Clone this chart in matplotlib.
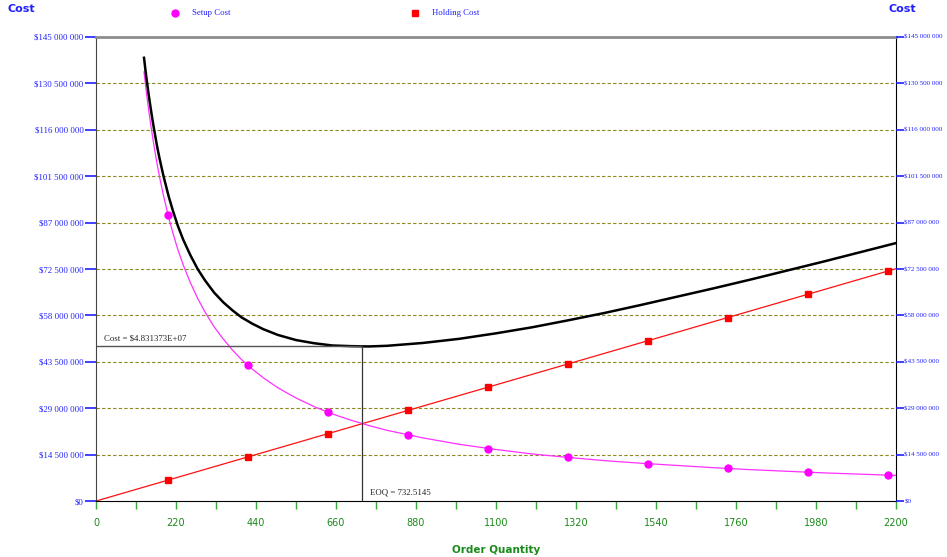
import matplotlib.pyplot as plt
from matplotlib.ticker import FixedLocator

# values (cost in millions of $)
q_curve = [132, 136, 140, 145, 150, 155, 160, 168, 175, 185, 200, 212, 225, 240, 260,
           280, 300, 325, 350, 375, 400, 430, 460, 500, 550, 600, 650, 700, 750, 800,
           900, 1000, 1100, 1200, 1300, 1400, 1500, 1600, 1700, 1800, 1900, 2000,
           2100, 2200]
setup_curve = [134.1, 130.1, 126.4, 122.0, 118.0, 114.2, 110.6, 105.3, 101.1, 95.7,
               88.5, 83.5, 78.6, 73.7, 68.1, 63.2, 59.0, 54.4, 50.6, 47.2, 44.2, 41.2,
               38.5, 35.4, 32.2, 29.5, 27.2, 25.3, 23.6, 22.1, 19.7, 17.7, 16.1, 14.7,
               13.6, 12.6, 11.8, 11.1, 10.4, 9.8, 9.3, 8.8, 8.4, 8.0]
total_curve = [138.5, 134.6, 131.0, 126.8, 123.0, 119.3, 115.9, 110.8, 106.9, 101.8,
               95.1, 90.5, 86.0, 81.6, 76.7, 72.4, 68.9, 65.1, 62.1, 59.6, 57.4, 55.4,
               53.7, 51.9, 50.3, 49.3, 48.6, 48.4, 48.3, 48.5, 49.4, 50.7, 52.4, 54.3,
               56.5, 58.8, 61.3, 63.9, 66.5, 69.2, 72.0, 74.8, 77.7, 80.6]
q_hold_line = [0, 2200]
hold_line = [0, 72.6]

q_marks = [198, 418, 638, 858, 1078, 1298, 1518, 1738, 1958, 2178]
setup_marks = [89.4, 42.4, 27.7, 20.6, 16.4, 13.6, 11.7, 10.2, 9.0, 8.1]
hold_marks = [6.5, 13.8, 21.0, 28.3, 35.6, 42.8, 50.1, 57.3, 64.6, 71.8]

eoq = 732.5145
min_cost = 48.31373

y_ticks = [0, 14.5, 29, 43.5, 58, 72.5, 87, 101.5, 116, 130.5, 145]
y_labels = ['$0', '$14 500 000', '$29 000 000', '$43 500 000', '$58 000 000',
            '$72 500 000', '$87 000 000', '$101 500 000', '$116 000 000',
            '$130 500 000', '$145 000 000']
x_ticks = [0, 220, 440, 660, 880, 1100, 1320, 1540, 1760, 1980, 2200]

blue = '#2020ff'
green = '#1a8a1a'
serif = 'Liberation Serif'

fig = plt.figure(figsize=(9.47, 5.57), dpi=100)
ax = fig.add_axes([0.1014, 0.1005, 0.8447, 0.8331])
ax.set_xlim(0, 2200)
ax.set_ylim(0, 145)

# grid
for yv in y_ticks[1:-1]:
    ax.axhline(yv, color='#8a8a20', lw=0.8, ls=(0, (3, 2)), zorder=1)

# curves
ax.plot(q_hold_line, hold_line, color='#ff1010', lw=0.9, zorder=3)
ax.plot(q_curve, setup_curve, color='#ff30ff', lw=0.9, zorder=3)
ax.plot(q_curve, total_curve, color='black', lw=1.8, zorder=4)
ax.plot(q_marks, setup_marks, 'o', color='#ff00ff', ms=5, zorder=5, ls='none')
ax.plot(q_marks, hold_marks, 's', color='#ff0000', ms=4.5, zorder=5, ls='none')

# EOQ guides
ax.plot([0, eoq], [min_cost, min_cost], color='#555555', lw=1.0, zorder=4)
ax.plot([eoq, eoq], [0, min_cost], color='#333333', lw=0.9, zorder=4)
ax.text(22, min_cost + 1.2, 'Cost = $4.831373E+07', fontsize=6.3, family=serif,
        color='#222222', va='bottom')
ax.text(eoq + 22, 1.5, 'EOQ = 732.5145', fontsize=6.3, family=serif,
        color='#222222', va='bottom')

# spines
ax.spines['top'].set_color('#8c8c8c')
ax.spines['top'].set_linewidth(2)
ax.spines['left'].set_color('#444444')
ax.spines['right'].set_color('black')
ax.spines['bottom'].set_color('black')
for s in ax.spines.values():
    s.set_zorder(6)

# left y ticks
ax.set_yticks(y_ticks)
ax.set_yticklabels(y_labels)
ax.tick_params(axis='y', which='major', length=8, width=1.2, color=blue,
               labelcolor=blue, labelsize=6.3, pad=1)
for lab in ax.get_yticklabels():
    lab.set_family(serif)

# right y ticks (labels slightly smaller so they stay inside the image)
ax2 = ax.twinx()
ax2.set_ylim(0, 145)
ax2.set_yticks(y_ticks)
ax2.set_yticklabels(y_labels)
ax2.tick_params(axis='y', length=6, width=1.2, color=blue, labelcolor=blue,
                labelsize=5.0, pad=0)
for lab in ax2.get_yticklabels():
    lab.set_family(serif)
for s in ax2.spines.values():
    s.set_visible(False)

# x ticks
ax.set_xticks(x_ticks)
ax.xaxis.set_minor_locator(FixedLocator([110 + 220 * i for i in range(10)]))
ax.tick_params(axis='x', which='both', direction='out', length=6, width=1,
               color='#3aa83a', labelcolor=green, labelsize=7, pad=6)

ax.set_xlabel('Order Quantity', color=green, fontsize=7.5, fontweight='bold')
ax.xaxis.set_label_coords(0.5, -0.095)

# titles for both y axes
fig.text(8 / 947, 1 - 9 / 557, 'Cost', color=blue, fontsize=8, fontweight='bold',
         va='center', ha='left')
fig.text(888 / 947, 1 - 9 / 557, 'Cost', color=blue, fontsize=8, fontweight='bold',
         va='center', ha='left')

# legend row at top
fig.lines.append(plt.Line2D([175 / 947], [1 - 13 / 557], marker='o', color='#ff00ff',
                            ms=5, ls='none', transform=fig.transFigure))
fig.text(192 / 947, 1 - 13 / 557, 'Setup Cost', color=blue, fontsize=6.3,
         family=serif, va='center')
fig.lines.append(plt.Line2D([415 / 947], [1 - 13 / 557], marker='s', color='#ff0000',
                            ms=4.5, ls='none', transform=fig.transFigure))
fig.text(432 / 947, 1 - 13 / 557, 'Holding Cost', color=blue, fontsize=6.3,
         family=serif, va='center')

fig.savefig('out.png', dpi=100)
